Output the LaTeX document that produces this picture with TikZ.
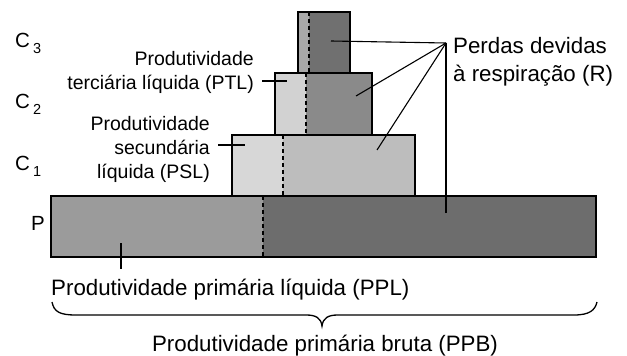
\documentclass[tikz,border=0pt]{standalone}
\usepackage{fontspec}
\setmainfont{Liberation Sans}
\definecolor{pL}{HTML}{9B9B9B}
\definecolor{pR}{HTML}{6D6D6D}
\definecolor{cAL}{HTML}{D7D7D7}
\definecolor{cAR}{HTML}{BDBDBD}
\definecolor{cBL}{HTML}{D2D2D2}
\definecolor{cBR}{HTML}{8A8A8A}
\definecolor{cCL}{HTML}{A8A8A8}
\definecolor{cCR}{HTML}{707070}
\begin{document}
\begin{tikzpicture}[x=1pt,y=-1pt,
  blk/.style={draw=none,inner sep=0pt,outer sep=0pt,anchor=north west},
  outline/.style={draw=black,line width=1.6pt},
  split/.style={draw=black,line width=1.5pt,dash pattern=on 4pt off 3pt},
  lead/.style={draw=black,line width=1.1pt},
  lbl/.style={inner sep=0pt,font=\fontsize{19.5}{24}\selectfont},
  big/.style={inner sep=0pt,font=\fontsize{22.3}{28}\selectfont},
  lvl/.style={inner sep=0pt,font=\fontsize{20.5}{24}\selectfont},
]
\useasboundingbox (0,0) rectangle (627,356);

% C3
\node[blk,fill=cCL,minimum width=11pt,minimum height=61pt] (c3l) at (298,12) {};
\node[blk,fill=cCR,minimum width=41pt,minimum height=61pt] (c3r) at (309,12) {};
\draw[outline] (c3l.north west) rectangle (c3r.south east);
\draw[split] (c3l.north east) -- (c3l.south east);
% C2
\node[blk,fill=cBL,minimum width=31pt,minimum height=62pt] (c2l) at (275,73) {};
\node[blk,fill=cBR,minimum width=66pt,minimum height=62pt] (c2r) at (306,73) {};
\draw[outline] (c2l.north west) rectangle (c2r.south east);
\draw[split] (c2l.north east) -- (c2l.south east);
% C1
\node[blk,fill=cAL,minimum width=51pt,minimum height=61pt] (c1l) at (232,135) {};
\node[blk,fill=cAR,minimum width=132pt,minimum height=61pt] (c1r) at (283,135) {};
\draw[outline] (c1l.north west) rectangle (c1r.south east);
\draw[split] (c1l.north east) -- (c1l.south east);
% P
\node[blk,fill=pL,minimum width=212pt,minimum height=61pt] (pl) at (51,196) {};
\node[blk,fill=pR,minimum width=333pt,minimum height=61pt] (pr) at (263,196) {};
\draw[outline] (pl.north west) rectangle (pr.south east);
\draw[split] (pl.north east) -- (pl.south east);

% level labels
\node[lvl,anchor=west] (lc3) at (15,43) {C\hspace{3pt}\raisebox{-6pt}{\fontsize{14.5}{14}\selectfont 3}};
\node[lvl,anchor=west] (lc2) at (15,104) {C\hspace{3pt}\raisebox{-6pt}{\fontsize{14.5}{14}\selectfont 2}};
\node[lvl,anchor=west] (lc1) at (15,166) {C\hspace{3pt}\raisebox{-6pt}{\fontsize{14.5}{14}\selectfont 1}};
\node[lvl,anchor=west] (lp) at (31,223) {P};

% PTL / PSL labels
\node[lbl,anchor=north east,align=right] (ptl) at (254,51) {Produtividade\\terciária líquida (PTL)};
\node[lbl,anchor=north east,align=right] (psl) at (210,116) {Produtividade\\secundária\\líquida (PSL)};
\coordinate (ptlA) at (262,81);
\coordinate (ptlB) at (287,81);
\coordinate (pslA) at (218,145);
\coordinate (pslB) at (245,145);
\draw[lead] (ptlA) -- (ptlB);
\draw[lead] (pslA) -- (pslB);

% respiration
\node[big,anchor=north west,align=left] (perdas) at (453,37) {Perdas devidas\\à respiração (R)};
\coordinate (rf) at (446,43);
\coordinate (r3) at (331,41);
\coordinate (r2) at (356,96);
\coordinate (r1) at (377,150);
\coordinate (rp) at (446,213);
\draw[lead] (r3) -- (rf);
\draw[lead] (r2) -- (rf);
\draw[lead] (r1) -- (rf);
\draw[lead] (rp) -- (rf);

% PPL
\node[big,anchor=base west] (ppl) at (51,295) {Produtividade primária líquida (PPL)};
\coordinate (pplA) at (121,243);
\coordinate (pplB) at (121,269);
\draw[lead] (pplA) -- (pplB);

% brace
\coordinate (bl) at (52,302);
\coordinate (br) at (597,302);
\coordinate (bt) at (322,326);
\draw[line width=1.3pt] (bl) .. controls (54,312) and (60,315) .. (76,315) -- (306,315)
  .. controls (316,315) and (321,318) .. (bt)
  .. controls (323,318) and (328,315) .. (338,315) -- (574,315)
  .. controls (590,315) and (595,310) .. (br);
\node[big,anchor=base] (ppb) at (325,351) {Produtividade primária bruta (PPB)};
\end{tikzpicture}
\end{document}
